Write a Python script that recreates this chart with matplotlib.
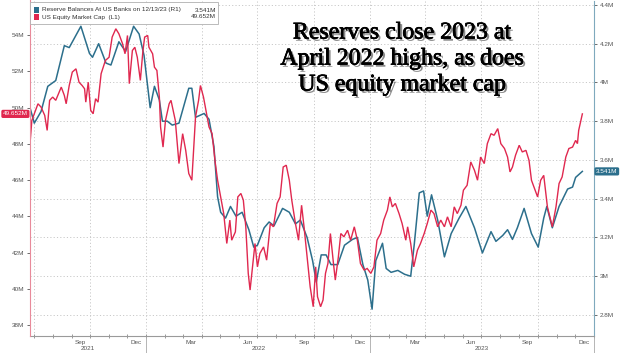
import matplotlib
matplotlib.use("Agg")
import matplotlib.pyplot as plt
import matplotlib.dates as mdates
import matplotlib.patheffects as pe
from matplotlib.patches import Rectangle
import pandas as pd

# ---------------- data ----------------
reserve_dates = [
    "2021-06-25", "2021-07-02", "2021-07-13", "2021-07-24", "2021-08-06", "2021-08-20",
    "2021-08-28", "2021-09-16", "2021-09-30", "2021-10-05", "2021-10-15", "2021-10-27",
    "2021-11-04", "2021-11-17", "2021-11-28", "2021-12-11", "2021-12-20", "2021-12-28",
    "2022-01-07", "2022-01-14", "2022-01-22", "2022-01-27", "2022-02-04", "2022-02-12",
    "2022-02-23", "2022-03-11", "2022-03-16", "2022-03-22", "2022-04-05", "2022-04-13",
    "2022-04-21", "2022-04-27", "2022-05-02", "2022-05-10", "2022-05-18", "2022-05-27",
    "2022-06-06", "2022-06-17", "2022-06-25", "2022-07-01", "2022-07-12", "2022-07-20",
    "2022-07-28", "2022-08-11", "2022-08-22", "2022-09-01", "2022-09-09", "2022-09-20",
    "2022-09-29", "2022-10-05", "2022-10-13", "2022-10-21", "2022-10-29", "2022-11-09",
    "2022-11-20", "2022-12-03", "2022-12-11", "2022-12-20", "2022-12-28", "2023-01-04",
    "2023-01-10", "2023-01-21", "2023-01-27", "2023-02-04", "2023-02-15", "2023-02-26",
    "2023-03-08", "2023-03-14", "2023-03-22", "2023-03-29", "2023-04-04", "2023-04-11",
    "2023-04-21", "2023-05-02", "2023-05-13", "2023-05-26", "2023-06-06", "2023-06-20",
    "2023-07-03", "2023-07-17", "2023-07-25", "2023-08-05", "2023-08-13", "2023-08-21",
    "2023-08-29", "2023-09-09", "2023-09-21", "2023-10-02", "2023-10-11", "2023-10-16",
    "2023-10-25", "2023-11-05", "2023-11-19", "2023-11-27", "2023-12-02", "2023-12-13",
]
reserve_values = [
    3.87, 3.79, 3.85, 3.98, 4.01, 4.19,
    4.18, 4.29, 4.15, 4.13, 4.20, 4.10,
    4.09, 4.21, 4.16, 4.29, 4.25, 4.14,
    3.87, 3.98, 3.91, 3.80, 3.80, 3.78,
    3.79, 3.97, 3.97, 3.82, 3.84, 3.81,
    3.67, 3.41, 3.33, 3.30, 3.36, 3.31,
    3.33, 3.24, 3.15, 3.16, 3.25, 3.28,
    3.26, 3.35, 3.33, 3.27, 3.29, 3.20,
    3.08, 2.97, 3.11, 3.11, 3.06, 3.06,
    3.16, 3.19, 3.20, 3.06, 2.98, 2.83,
    3.08, 3.17, 3.04, 3.02, 3.03, 3.01,
    3.00, 3.17, 3.43, 3.44, 3.31, 3.42,
    3.29, 3.10, 3.22, 3.30, 3.36, 3.25,
    3.12, 3.23, 3.18, 3.21, 3.24, 3.19,
    3.25, 3.35, 3.22, 3.15, 3.30, 3.36,
    3.25, 3.36, 3.45, 3.46, 3.51, 3.541,
]

equity_dates = [
    "2021-06-25", "2021-06-28", "2021-07-02", "2021-07-08", "2021-07-13", "2021-07-19",
    "2021-07-23", "2021-07-27", "2021-08-01", "2021-08-06", "2021-08-15", "2021-08-20",
    "2021-08-23", "2021-08-28", "2021-09-02", "2021-09-08", "2021-09-13", "2021-09-18",
    "2021-09-22", "2021-09-24", "2021-09-28", "2021-10-02", "2021-10-06", "2021-10-10",
    "2021-10-14", "2021-10-19", "2021-10-26", "2021-11-01", "2021-11-06", "2021-11-12",
    "2021-11-17", "2021-11-23", "2021-11-27", "2021-12-01", "2021-12-04", "2021-12-09",
    "2021-12-13", "2021-12-17", "2021-12-22", "2021-12-26", "2021-12-29", "2022-01-03",
    "2022-01-05", "2022-01-11", "2022-01-14", "2022-01-18", "2022-01-22", "2022-01-24",
    "2022-01-28", "2022-02-01", "2022-02-07", "2022-02-10", "2022-02-17", "2022-02-23",
    "2022-03-01", "2022-03-06", "2022-03-11", "2022-03-16", "2022-03-22", "2022-03-27",
    "2022-03-30", "2022-04-04", "2022-04-07", "2022-04-13", "2022-04-18", "2022-04-23",
    "2022-04-27", "2022-05-02", "2022-05-07", "2022-05-12", "2022-05-17", "2022-05-20",
    "2022-05-26", "2022-05-30", "2022-06-04", "2022-06-08", "2022-06-12", "2022-06-16",
    "2022-06-19", "2022-06-23", "2022-06-27", "2022-07-01", "2022-07-05", "2022-07-11",
    "2022-07-16", "2022-07-22", "2022-07-27", "2022-08-02", "2022-08-07", "2022-08-12",
    "2022-08-17", "2022-08-22", "2022-08-26", "2022-09-01", "2022-09-06", "2022-09-11",
    "2022-09-15", "2022-09-19", "2022-09-25", "2022-09-30", "2022-10-04", "2022-10-07",
    "2022-10-12", "2022-10-16", "2022-10-20", "2022-10-24", "2022-10-28", "2022-11-02",
    "2022-11-05", "2022-11-10", "2022-11-14", "2022-11-19", "2022-11-25", "2022-11-30",
    "2022-12-06", "2022-12-11", "2022-12-16", "2022-12-22", "2022-12-27", "2023-01-02",
    "2023-01-07", "2023-01-12", "2023-01-18", "2023-01-23", "2023-01-29", "2023-02-02",
    "2023-02-06", "2023-02-11", "2023-02-17", "2023-02-22", "2023-02-28", "2023-03-03",
    "2023-03-08", "2023-03-13", "2023-03-19", "2023-03-24", "2023-03-30", "2023-04-04",
    "2023-04-10", "2023-04-15", "2023-04-21", "2023-04-26", "2023-05-02", "2023-05-07",
    "2023-05-13", "2023-05-18", "2023-05-23", "2023-05-29", "2023-06-02", "2023-06-08",
    "2023-06-14", "2023-06-20", "2023-06-25", "2023-06-30", "2023-07-06", "2023-07-11",
    "2023-07-17", "2023-07-22", "2023-07-28", "2023-08-02", "2023-08-08", "2023-08-13",
    "2023-08-17", "2023-08-21", "2023-08-26", "2023-09-01", "2023-09-06", "2023-09-12",
    "2023-09-17", "2023-09-21", "2023-09-25", "2023-10-01", "2023-10-06", "2023-10-11",
    "2023-10-17", "2023-10-21", "2023-10-25", "2023-10-31", "2023-11-05", "2023-11-10",
    "2023-11-16", "2023-11-21", "2023-11-27", "2023-12-02", "2023-12-05", "2023-12-07",
    "2023-12-13",
]
equity_values = [
    48.01, 49.29, 49.66, 50.21, 50.03, 49.57,
    48.74, 50.40, 50.58, 50.40, 51.13, 50.67,
    50.21, 51.22, 51.96, 52.14, 51.40, 51.22,
    51.04, 50.30, 51.40, 49.85, 49.66, 50.49,
    50.30, 51.87, 52.60, 52.78, 53.89, 54.35,
    54.07, 53.52, 52.97, 53.98, 51.32, 53.15,
    53.33, 52.78, 51.50, 53.06, 53.89, 53.98,
    53.33, 52.97, 52.23, 52.05, 50.58, 48.93,
    47.82, 49.29, 50.21, 50.40, 49.29, 46.91,
    48.56, 47.64, 46.36, 45.99, 49.48, 50.40,
    51.22, 50.58, 50.03, 48.93, 48.56, 47.00,
    45.99, 45.07, 44.15, 42.50, 43.79, 42.68,
    43.14, 45.07, 45.26, 44.89, 43.42, 40.85,
    39.93, 41.21, 42.50, 41.21, 41.95, 42.31,
    41.58, 43.60, 43.42, 44.71, 45.07, 46.72,
    46.82, 45.99, 44.89, 43.60, 42.68, 44.61,
    43.42, 42.10, 40.11, 39.01, 41.21, 39.56,
    39.01, 39.38, 40.85, 41.40, 43.05, 41.40,
    40.48, 41.76, 43.05, 42.87, 43.23, 42.68,
    43.42, 42.68, 41.40, 41.03, 41.12, 40.85,
    41.21, 42.68, 43.05, 43.79, 44.34, 45.07,
    44.52, 44.71, 44.15, 43.60, 42.68, 43.42,
    42.50, 41.21, 42.13, 42.50, 43.05, 43.60,
    44.34, 44.15, 43.42, 43.79, 43.42, 43.97,
    43.42, 44.52, 44.15, 44.61, 45.44, 45.71,
    47.00, 46.54, 45.99, 47.27, 46.91, 48.01,
    48.56, 48.47, 48.84, 48.01, 47.74, 47.27,
    46.45, 46.72, 47.37, 47.92, 47.55, 47.64,
    47.09, 45.99, 45.62, 45.07, 45.99, 46.26,
    44.52, 43.97, 43.42, 44.52, 45.81, 46.17,
    47.27, 47.74, 47.82, 48.19, 48.01, 48.74,
    49.652,
]

left_ticks = [38, 40, 42, 44, 46, 48, 50, 52, 54]
right_ticks = [2.8, 3.0, 3.2, 3.4, 3.6, 3.8, 4.0, 4.2, 4.4]
month_labels = ["Sep", "Dec", "Mar", "Jun", "Sep", "Dec", "Mar", "Jun", "Sep", "Dec"]
month_label_dates = ["2021-09-15", "2021-12-15", "2022-03-15", "2022-06-15", "2022-09-15",
                     "2022-12-15", "2023-03-15", "2023-06-15", "2023-09-15", "2023-12-15"]
year_labels = ["2021", "2022", "2023"]
year_bounds = ["2021-06-25", "2022-01-01", "2023-01-01", "2024-01-01"]

reserve_name = "Reserve Balances At US Banks on 12/13/23 (R1)"
equity_name = "US Equity Market Cap  (L1)"
title_lines = ["Reserves close 2023 at", "April 2022 highs, as does", "US equity market cap"]

RED = "#e0284f"
BLUE = "#2c6f8c"
GRID = "#c9c9c9"
TXT = "#555555"
SANS = "Liberation Sans"

# ---------------- figure ----------------
W, H = 620, 353
fig = plt.figure(figsize=(W / 100, H / 100), dpi=100)
fig.patch.set_facecolor("white")

x0, x1, yb, yt = 30, 594, 335.7, 0.5
ax2 = fig.add_axes([x0 / W, 1 - yb / H, (x1 - x0) / W, (yb - yt) / H])  # right axis (reserves)
ax = ax2.twinx()  # left axis (equity)
ax.yaxis.tick_left()
ax.yaxis.set_label_position("left")
ax2.yaxis.tick_right()
ax.set_zorder(ax2.get_zorder() + 1)
ax.patch.set_visible(False)

rd = pd.to_datetime(reserve_dates)
ed = pd.to_datetime(equity_dates)

ax2.plot(rd, reserve_values, color=BLUE, lw=1.1, solid_joinstyle="round")
ax.plot(ed, equity_values, color=RED, lw=1.0, solid_joinstyle="miter")

xstart, xend = pd.Timestamp("2021-06-25"), pd.Timestamp("2024-01-01")
ax2.set_xlim(xstart, xend)
ax.set_xlim(xstart, xend)
ax.set_ylim(37.41, 55.91)
ax2.set_ylim(2.693, 4.423)

# y ticks
ax.set_yticks(left_ticks)
ax.set_yticklabels([f"{v:g}M" for v in left_ticks])
ax2.set_yticks(right_ticks)
ax2.set_yticklabels([f"{v:g}M" for v in right_ticks])
for a in (ax, ax2):
    a.tick_params(axis="y", labelsize=4.6, colors=TXT, length=2.5, width=0.6, pad=1.5)
    for lab in a.get_yticklabels():
        lab.set_fontfamily(SANS)

# x axis: quarter gridlines, monthly minor ticks
ax2.xaxis.set_major_locator(mdates.MonthLocator(bymonth=[1, 4, 7, 10]))
ax2.xaxis.set_minor_locator(mdates.MonthLocator())
ax2.xaxis.set_major_formatter(plt.NullFormatter())
ax2.tick_params(axis="x", which="both", length=2.5, width=0.6, colors="#888888", direction="inout")
ax.tick_params(axis="x", which="both", bottom=False, labelbottom=False)
ax2.grid(True, which="major", axis="both", linestyle=(0, (1.2, 2.2)), color=GRID, lw=0.7)

# spines
for a in (ax, ax2):
    a.spines["top"].set_visible(False)
ax.spines["left"].set_color("#e88a9a")
ax.spines["right"].set_visible(False)
ax.spines["bottom"].set_visible(False)
ax2.spines["left"].set_visible(False)
ax2.spines["right"].set_color("#7fa9bd")
ax2.spines["bottom"].set_color("#9a9a9a")
for s in ("left", "right", "bottom"):
    ax.spines[s].set_linewidth(0.8)
    ax2.spines[s].set_linewidth(0.8)

# month / year labels
xt = ax2.get_xaxis_transform()
for lab, d in zip(month_labels, month_label_dates):
    ax2.text(pd.Timestamp(d), -0.019, lab, transform=xt, ha="center", va="center",
             fontsize=4.6, color=TXT, family=SANS, clip_on=False)
bounds = [pd.Timestamp(b) for b in year_bounds]
for i, lab in enumerate(year_labels):
    mid = bounds[i] + (bounds[i + 1] - bounds[i]) / 2
    ax2.text(mid, -0.037, lab, transform=xt, ha="center", va="center",
             fontsize=4.6, color=TXT, family=SANS, clip_on=False)
for b in bounds[1:]:
    ax2.plot([b, b], [0, -0.055], transform=xt, color="#aaaaaa", lw=0.6, clip_on=False)

# last-value tags
ax.annotate(f"{equity_values[-1]:.3f}M", xy=(0, equity_values[-1]),
            xycoords=("axes fraction", "data"), xytext=(-1.5, 0), textcoords="offset points",
            ha="right", va="center", fontsize=4.6, color="white", family=SANS, zorder=10,
            bbox=dict(boxstyle="round,pad=0.25", fc=RED, ec="none"), annotation_clip=False)
ax2.annotate(f"{reserve_values[-1]:.3f}M", xy=(1, reserve_values[-1]),
             xycoords=("axes fraction", "data"), xytext=(1.5, 0), textcoords="offset points",
             ha="left", va="center", fontsize=4.6, color="white", family=SANS, zorder=10,
             bbox=dict(boxstyle="round,pad=0.25", fc=BLUE, ec="none"), annotation_clip=False)

# legend box
def fx(px):
    return px / W

def fy(py):
    return 1 - py / H

fig.add_artist(Rectangle((fx(30), fy(24)), fx(218) - fx(30), fy(2) - fy(24),
                         transform=fig.transFigure, fc="white", ec="#b0b0b0", lw=0.6, zorder=20))
rows = [(reserve_name, f"{reserve_values[-1]:.3f}M", BLUE, 10),
        (equity_name, f"{equity_values[-1]:.3f}M", RED, 17)]
for name, val, col, py in rows:
    fig.add_artist(Rectangle((fx(34), fy(py + 2.5)), fx(5), 5 / H,
                             transform=fig.transFigure, fc=col, ec="none", zorder=21))
    fig.text(fx(42), fy(py), name, ha="left", va="center", fontsize=4.6,
             color="#333333", family=SANS, zorder=22)
    fig.text(fx(216), fy(py), val, ha="right", va="center", fontsize=4.6,
             color="#333333", family=SANS, zorder=22)

# headline
shadow = [pe.withSimplePatchShadow(offset=(1.6, -1.6), shadow_rgbFace="#666666", alpha=0.75),
          pe.Stroke(linewidth=0.5, foreground="black"),
          pe.Normal()]
for line, py in zip(title_lines, [33, 59, 85]):
    fig.text(fx(402), fy(py), line, ha="center", va="center", fontsize=17.2,
             family="Liberation Serif", color="black", path_effects=shadow, zorder=30)

fig.savefig("out.png", dpi=100)
